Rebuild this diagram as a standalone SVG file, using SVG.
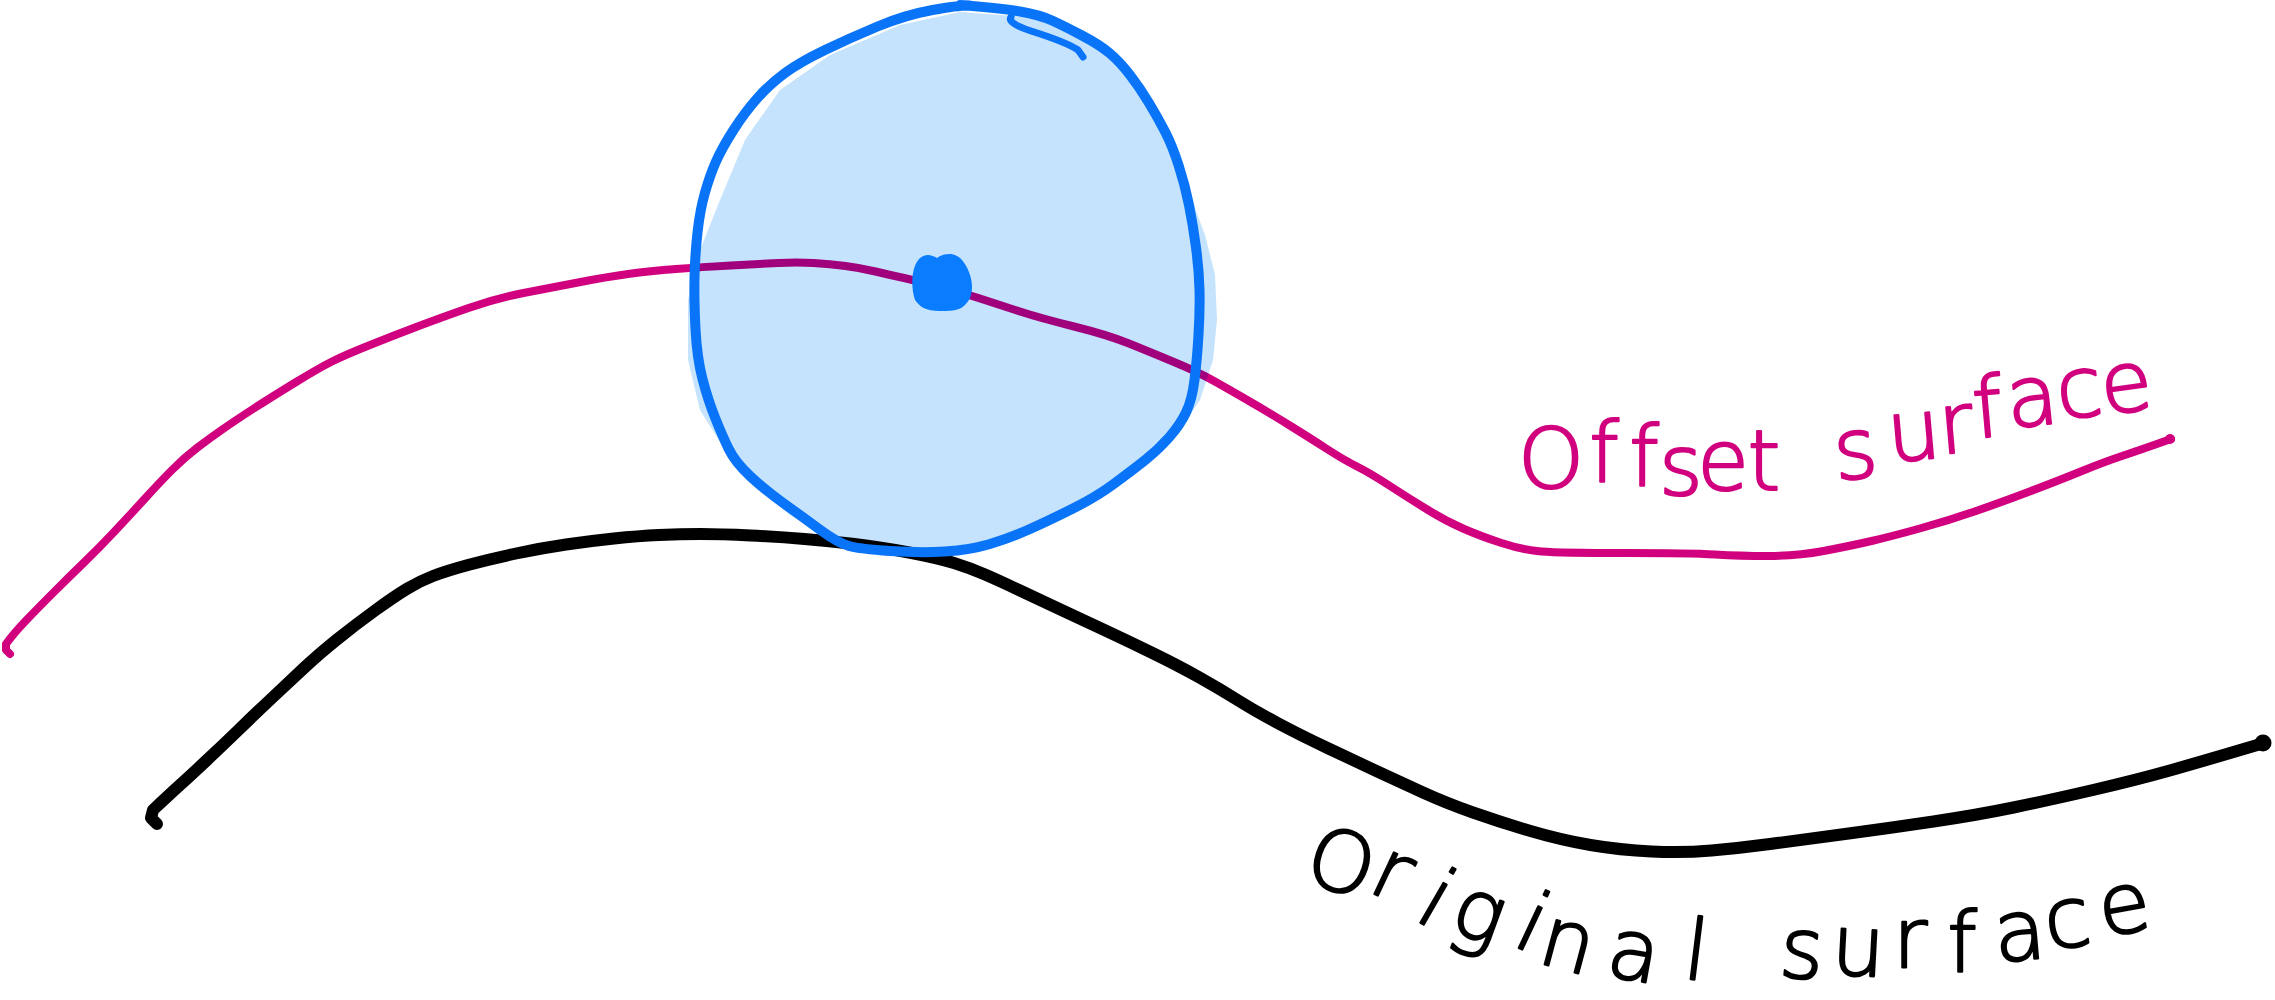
<svg xmlns="http://www.w3.org/2000/svg" width="2275" height="1000" viewBox="0 0 2275 1000">
  <style>
    .curve { fill: none; stroke-linecap: round; stroke-linejoin: round; }
    .orig { stroke: #000000; stroke-width: 12; }
    .offs { stroke: #d1007e; stroke-width: 8; }
    .ballfill { fill: #c5e3fd; mix-blend-mode: multiply; stroke: none; }
    .ballline { fill: none; stroke: #0a74f8; stroke-width: 10; stroke-linecap: round; stroke-linejoin: round; }
    .dot { fill: #0a7cff; }
    .label { font-family: 'DejaVu Sans', 'Noto Sans', 'Liberation Sans', sans-serif; font-size: 84px; font-weight: 300; text-anchor: middle; stroke-width: 2.2; stroke-linejoin: round; }
    .pinktext { fill: #d1007e; stroke: #d1007e; }
    .blacktext { fill: #000000; stroke: #000000; }
  </style>
  <rect x="0" y="0" width="2275" height="1000" fill="#ffffff"/>

  <g id="connectors">
    <g id="original-surface">
      <path class="curve orig" d="M 157,824 L 151,818 L 153,810 Q 170,794 180.5,784.5 Q 191,775 207,760 Q 223,745 239,729.5 Q 255,714 272.5,697.5 Q 290,681 304.5,667.5 Q 319,654 337,639.5 Q 355,625 375,610.5 Q 395,596 407.5,588.5 Q 420,581 433,576 Q 446,571 468,565 Q 490,559 516,553.5 Q 542,548 566,544.5 Q 590,541 614,538.5 Q 638,536 659,535 Q 680,534 700.5,534 Q 721,534 750.5,535.5 Q 780,537 804.5,539 Q 829,541 854.5,544 Q 880,547 909,552.5 Q 938,558 954,563 Q 970,568 985,574.5 Q 1000,581 1020,590.5 Q 1040,600 1061.5,610 Q 1083,620 1106.5,631 Q 1130,642 1154.5,654 Q 1179,666 1199.5,677.5 Q 1220,689 1237.5,700 Q 1255,711 1277.5,723 Q 1300,735 1328.5,748.5 Q 1357,762 1378.5,772 Q 1400,782 1423,792.5 Q 1446,803 1473,812.5 Q 1500,822 1530.5,831 Q 1561,840 1590.5,845 Q 1620,850 1651.5,851.5 Q 1683,853 1711.5,850.5 Q 1740,848 1770,844 Q 1800,840 1845,834 Q 1890,828 1933.5,821.5 Q 1977,815 2013.5,807.5 Q 2050,800 2093,790 Q 2136,780 2168,771 Q 2200,762 2264,743"/>
      <circle cx="2263" cy="743" r="8.5" fill="#000000"/>
    </g>
    <g id="offset-surface">
      <path class="curve offs" d="M 10,654 L 6,650 L 6,644 Q 14,633 26,620.5 Q 38,608 54,592 Q 70,576 84.5,562 Q 99,548 114.5,531.5 Q 130,515 145,498.5 Q 160,482 172.5,469.5 Q 185,457 197.5,447.5 Q 210,438 223,429 Q 236,420 253,409 Q 270,398 294.5,383 Q 319,368 332,361.5 Q 345,355 370,345 Q 395,335 417.5,326.5 Q 440,318 468.5,308 Q 497,298 523.5,293 Q 550,288 578,282.5 Q 606,277 628,274 Q 650,271 676,269 Q 702,267 731,265.5 Q 760,264 778.5,263 Q 797,262 813.5,263 Q 830,264 845.5,266 Q 861,268 875.5,271.5 Q 890,275 904,278 Q 918,281 939,286.5 Q 960,292 980,298.5 Q 1000,305 1020,311.5 Q 1040,318 1074,326.5 Q 1108,335 1129,343.5 Q 1150,352 1174,362 Q 1198,372 1214,381 Q 1230,390 1249,401 Q 1268,412 1289,425 Q 1310,438 1327,449 Q 1344,460 1357,466.5 Q 1370,473 1390,486 Q 1410,499 1428,510 Q 1446,521 1463,528.5 Q 1480,536 1501.5,543 Q 1523,550 1541.5,551.5 Q 1560,553 1625,553 Q 1690,553 1715,554.5 Q 1740,556 1768.5,556 Q 1797,556 1823.5,551 Q 1850,546 1871.5,541 Q 1893,536 1921.5,528 Q 1950,520 1976,511 Q 2002,502 2031,491 Q 2060,480 2082,471 Q 2104,462 2122,456 Q 2140,450 2171,439"/>
      <circle cx="2170" cy="439" r="5" fill="#d1007e"/>
    </g>
  </g>

  <g id="offset-ball">
    <path class="ballfill" d="M 960,12 L 1040,18 L 1100,48 L 1140,88 L 1175,145 L 1192,200 L 1205,235 L 1215,275 L 1217,320 L 1213,360 L 1200,400 L 1180,430 L 1130,475 L 1050,522 L 970,553 L 910,555 L 850,548 L 790,515 L 750,480 L 725,450 L 700,410 L 688,360 L 688,300 L 700,250 L 720,200 L 745,140 L 780,90 L 830,55 L 900,25 Z"/>
    <path class="ballline" d="M 960,5 Q 1000,8 1020,11.5 Q 1040,15 1052,20.5 Q 1064,26 1082,35.5 Q 1100,45 1110,53.5 Q 1120,62 1130,75 Q 1140,88 1149,103 Q 1158,118 1165,131.5 Q 1172,145 1178.5,165 Q 1185,185 1189,205 Q 1193,225 1196,247.5 Q 1199,270 1199.5,290 Q 1200,310 1198.5,335 Q 1197,360 1194.5,380 Q 1192,400 1186,412.5 Q 1180,425 1169,437.5 Q 1158,450 1144,461 Q 1130,472 1113,484.5 Q 1096,497 1073,508.5 Q 1050,520 1030,529 Q 1010,538 990,544 Q 970,550 945,551.5 Q 920,553 890,551 Q 860,549 849,546 Q 838,543 819,529 Q 800,515 782.5,502.5 Q 765,490 750,476 Q 735,462 728.5,448.5 Q 722,435 715,417.5 Q 708,400 702.5,379 Q 697,358 695.5,329 Q 694,300 694.5,277.5 Q 695,255 697.5,232.5 Q 700,210 705,192.5 Q 710,175 716,161.5 Q 722,148 733.5,130 Q 745,112 757.5,98 Q 770,84 785,73 Q 800,62 825,50 Q 850,38 877.5,26.5 Q 905,15 932.5,10 Q 960,5 970,5.5"/>
    <path class="ballline" style="stroke-width:7" d="M 1011,17 Q 1007,23 1031,31 Q 1066,42 1078,50 L 1083,57"/>
    <path id="center-dot" class="dot" d="M 915,300 C 910,285 912,265 920,258 C 926,253 932,255 937,258 C 944,253 955,252 962,260 C 970,270 975,285 970,298 C 965,307 960,311 945,311 C 930,311 922,310 915,300 Z"/>
  </g>

  <g id="label-offset">
    <text class="label pinktext" x="1551 1604 1644 1681 1723 1764 1810 1858 1916 1958 1990 2035 2082 2130" y="488 482 486 495 490 490 488 480 462 454 438 428 419 415" rotate="0 0 0 0 0 0 0 -5 -5 -5 -5 -6 -6 -8">Offset surface</text>
  </g>
  <g id="label-original">
    <text class="label blacktext" x="1334 1383 1424 1472 1522 1562 1630 1693 1742 1800 1857 1910 1962 2022 2071 2129" y="880 890 918 930 944 962 975 978 976 976 974 968 972 962 950 937" rotate="18 25 30 20 25 15 10 7 0 5 3 0 0 -5 -8 -10">Original surface</text>
  </g>
</svg>
